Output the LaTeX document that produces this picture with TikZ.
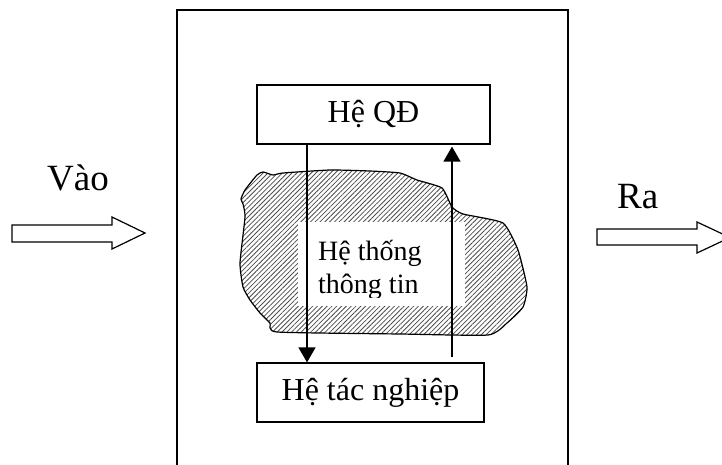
\documentclass[tikz,border=0pt]{standalone}
\usepackage{fontspec}
\setmainfont{Liberation Serif}
\usetikzlibrary{arrows.meta,patterns.meta}

\tikzset{
  hopbox/.style={draw, line width=1.2pt, minimum height=59pt, inner sep=0pt, font=\fontsize{32}{38}\selectfont},
  luong/.style={line width=1.2pt, -{Triangle[length=15pt,width=17pt]}},
  nhan/.style={anchor=base west, inner sep=0pt, font=\fontsize{37}{44}\selectfont},
}

\begin{document}
\begin{tikzpicture}[x=1pt,y=-1pt]
		\useasboundingbox (0,0) rectangle (722,465);
		\clip (0,0) rectangle (722,465);
		\draw [line width=1.6pt] (177,480) -- (177,10) -- (568,10) -- (568,480); % khung
		% vung gach cheo
		\draw [line width=1.2pt, pattern={Lines[angle=45,distance=3.4pt,line width=0.8pt]}, pattern color=black!70]
			plot [smooth cycle, tension=0.3] coordinates {(257,175) (263,172) (273,175) (283,173) (330,170) (370,171) (400,173) (417,180) (442,188) (452,207) (463,214) (503,223) (518,250) (527,287) (523,307) (507,323) (488,335) (400,334) (277,332) (270,323) (260,313) (250,300) (243,287) (240,263) (245,217) (243,204) (241,199) (245,190)};
		\fill [white] (298,222) rectangle (465,306);
		\begin{scope}
			\clip (298,222) rectangle (465,297);
			\node [anchor=base west, inner sep=0pt, align=left, font=\fontsize{28}{33}\selectfont] (httt) at (318,293) {Hệ thống\\thông tin};
		\end{scope}
		\node [hopbox, minimum width=233pt] (qd) at (373.5,114.5) {Hệ QĐ};
		\node [hopbox, minimum width=227pt] (tn) at (370.5,392.5) {Hệ tác nghiệp};
		\coordinate (xuong) at (307,0);
		\coordinate (len) at (452,357);
		\draw [luong] (qd.south -| xuong) -- (tn.north -| xuong);
		\draw [luong, shorten >=2pt] (len) -- (len |- qd.south);
		% mui ten vao, ra
		\draw [line width=1.2pt] (12,225) -- (112,225) -- (112,217) -- (145,233) -- (112,249) -- (112,242) -- (12,242) -- cycle;
		\draw [line width=1.2pt] (597,229) -- (697,229) -- (697,222) -- (730,237.5) -- (697,253) -- (697,245) -- (597,245) -- cycle;
		\node [nhan] (vao) at (47,190) {Vào};
		\node [nhan] (ra) at (617,208) {Ra};
\end{tikzpicture}
\end{document}
